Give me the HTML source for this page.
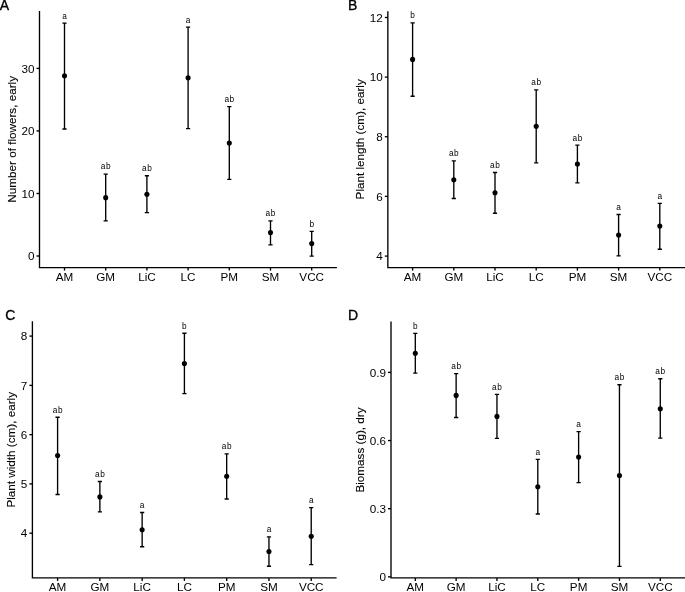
<!DOCTYPE html>
<html><head><meta charset="utf-8"><style>
html,body{margin:0;padding:0;background:#fff;}
body{width:685px;height:592px;overflow:hidden;}
svg{display:block;}
text{font-family:"Liberation Sans", sans-serif;fill:#000;}
.tg{stroke:#000;stroke-width:0.35px;}
.tt{stroke:#000;stroke-width:0.12px;}
svg{will-change:transform;}
</style></head><body>
<svg width="685" height="592" viewBox="0 0 685 592">
<rect width="685" height="592" fill="#fff"/>
<g>
<path d="M39.5 11.1V267.6H336.9" fill="none" stroke="#000" stroke-width="1.35" stroke-linecap="butt"/>
<line x1="36.5" y1="256" x2="39.5" y2="256" stroke="#000" stroke-width="1.35"/>
<text x="34.4" y="260.15" font-size="11.7" text-anchor="end">0</text>
<line x1="36.5" y1="193.5" x2="39.5" y2="193.5" stroke="#000" stroke-width="1.35"/>
<text x="34.4" y="197.65" font-size="11.7" text-anchor="end">10</text>
<line x1="36.5" y1="130.9" x2="39.5" y2="130.9" stroke="#000" stroke-width="1.35"/>
<text x="34.4" y="135.05" font-size="11.7" text-anchor="end">20</text>
<line x1="36.5" y1="68.4" x2="39.5" y2="68.4" stroke="#000" stroke-width="1.35"/>
<text x="34.4" y="72.55" font-size="11.7" text-anchor="end">30</text>
<line x1="64.5" y1="267.6" x2="64.5" y2="270.6" stroke="#000" stroke-width="1.35"/>
<text x="64.5" y="280.8" font-size="11.7" text-anchor="middle">AM</text>
<line x1="105.7" y1="267.6" x2="105.7" y2="270.6" stroke="#000" stroke-width="1.35"/>
<text x="105.7" y="280.8" font-size="11.7" text-anchor="middle">GM</text>
<line x1="146.9" y1="267.6" x2="146.9" y2="270.6" stroke="#000" stroke-width="1.35"/>
<text x="146.9" y="280.8" font-size="11.7" text-anchor="middle">LiC</text>
<line x1="188.1" y1="267.6" x2="188.1" y2="270.6" stroke="#000" stroke-width="1.35"/>
<text x="188.1" y="280.8" font-size="11.7" text-anchor="middle">LC</text>
<line x1="229.3" y1="267.6" x2="229.3" y2="270.6" stroke="#000" stroke-width="1.35"/>
<text x="229.3" y="280.8" font-size="11.7" text-anchor="middle">PM</text>
<line x1="270.5" y1="267.6" x2="270.5" y2="270.6" stroke="#000" stroke-width="1.35"/>
<text x="270.5" y="280.8" font-size="11.7" text-anchor="middle">SM</text>
<line x1="311.7" y1="267.6" x2="311.7" y2="270.6" stroke="#000" stroke-width="1.35"/>
<text x="311.7" y="280.8" font-size="11.7" text-anchor="middle">VCC</text>
<path d="M64.5 23.15V128.95M62.4 23.15H66.6M62.4 128.95H66.6" fill="none" stroke="#000" stroke-width="1.35"/>
<circle cx="64.5" cy="75.75" r="2.55" fill="#000"/>
<text x="64.5" y="18.7" font-size="8.3" text-anchor="middle">a</text>
<path d="M105.7 174.15V220.85M103.6 174.15H107.8M103.6 220.85H107.8" fill="none" stroke="#000" stroke-width="1.35"/>
<circle cx="105.7" cy="197.65" r="2.55" fill="#000"/>
<text x="106" y="168.85" font-size="8.3" text-anchor="middle" letter-spacing="0.6">ab</text>
<path d="M146.9 175.75V212.55M144.8 175.75H149M144.8 212.55H149" fill="none" stroke="#000" stroke-width="1.35"/>
<circle cx="146.9" cy="194.25" r="2.55" fill="#000"/>
<text x="147.2" y="170.5" font-size="8.3" text-anchor="middle" letter-spacing="0.6">ab</text>
<path d="M188.1 27.05V128.55M186 27.05H190.2M186 128.55H190.2" fill="none" stroke="#000" stroke-width="1.35"/>
<circle cx="188.1" cy="77.85" r="2.55" fill="#000"/>
<text x="188.1" y="22.6" font-size="8.3" text-anchor="middle">a</text>
<path d="M229.3 106.6V179.35M227.2 106.6H231.4M227.2 179.35H231.4" fill="none" stroke="#000" stroke-width="1.35"/>
<circle cx="229.3" cy="142.95" r="2.55" fill="#000"/>
<text x="229.6" y="102.15" font-size="8.3" text-anchor="middle" letter-spacing="0.6">ab</text>
<path d="M270.5 220.9V244.8M268.4 220.9H272.6M268.4 244.8H272.6" fill="none" stroke="#000" stroke-width="1.35"/>
<circle cx="270.5" cy="232.6" r="2.55" fill="#000"/>
<text x="270.8" y="215.95" font-size="8.3" text-anchor="middle" letter-spacing="0.6">ab</text>
<path d="M311.7 231.4V256.1M309.6 231.4H313.8M309.6 256.1H313.8" fill="none" stroke="#000" stroke-width="1.35"/>
<circle cx="311.7" cy="243.6" r="2.55" fill="#000"/>
<text x="311.7" y="226.95" font-size="8.3" text-anchor="middle">b</text>
<text transform="translate(15.8 139.3) rotate(-90)" font-size="11.7" text-anchor="middle" class="tt">Number of flowers, early</text>
<text x="-0.3" y="9.6" font-size="14" class="tg">A</text>
</g>
<g>
<path d="M387.85 11.2V267.6H686" fill="none" stroke="#000" stroke-width="1.35" stroke-linecap="butt"/>
<line x1="384.85" y1="256.1" x2="387.85" y2="256.1" stroke="#000" stroke-width="1.35"/>
<text x="382.75" y="260.25" font-size="11.7" text-anchor="end">4</text>
<line x1="384.85" y1="196.4" x2="387.85" y2="196.4" stroke="#000" stroke-width="1.35"/>
<text x="382.75" y="200.55" font-size="11.7" text-anchor="end">6</text>
<line x1="384.85" y1="136.75" x2="387.85" y2="136.75" stroke="#000" stroke-width="1.35"/>
<text x="382.75" y="140.9" font-size="11.7" text-anchor="end">8</text>
<line x1="384.85" y1="77.1" x2="387.85" y2="77.1" stroke="#000" stroke-width="1.35"/>
<text x="382.75" y="81.25" font-size="11.7" text-anchor="end">10</text>
<line x1="384.85" y1="17.5" x2="387.85" y2="17.5" stroke="#000" stroke-width="1.35"/>
<text x="382.75" y="21.65" font-size="11.7" text-anchor="end">12</text>
<line x1="412.6" y1="267.6" x2="412.6" y2="270.6" stroke="#000" stroke-width="1.35"/>
<text x="412.6" y="280.8" font-size="11.7" text-anchor="middle">AM</text>
<line x1="453.8" y1="267.6" x2="453.8" y2="270.6" stroke="#000" stroke-width="1.35"/>
<text x="453.8" y="280.8" font-size="11.7" text-anchor="middle">GM</text>
<line x1="495" y1="267.6" x2="495" y2="270.6" stroke="#000" stroke-width="1.35"/>
<text x="495" y="280.8" font-size="11.7" text-anchor="middle">LiC</text>
<line x1="536.2" y1="267.6" x2="536.2" y2="270.6" stroke="#000" stroke-width="1.35"/>
<text x="536.2" y="280.8" font-size="11.7" text-anchor="middle">LC</text>
<line x1="577.4" y1="267.6" x2="577.4" y2="270.6" stroke="#000" stroke-width="1.35"/>
<text x="577.4" y="280.8" font-size="11.7" text-anchor="middle">PM</text>
<line x1="618.6" y1="267.6" x2="618.6" y2="270.6" stroke="#000" stroke-width="1.35"/>
<text x="618.6" y="280.8" font-size="11.7" text-anchor="middle">SM</text>
<line x1="659.8" y1="267.6" x2="659.8" y2="270.6" stroke="#000" stroke-width="1.35"/>
<text x="659.8" y="280.8" font-size="11.7" text-anchor="middle">VCC</text>
<path d="M412.6 22.9V96.2M410.5 22.9H414.7M410.5 96.2H414.7" fill="none" stroke="#000" stroke-width="1.35"/>
<circle cx="412.6" cy="59.4" r="2.55" fill="#000"/>
<text x="412.6" y="18.1" font-size="8.3" text-anchor="middle">b</text>
<path d="M453.8 160.9V198.5M451.7 160.9H455.9M451.7 198.5H455.9" fill="none" stroke="#000" stroke-width="1.35"/>
<circle cx="453.8" cy="179.8" r="2.55" fill="#000"/>
<text x="454.1" y="156.45" font-size="8.3" text-anchor="middle" letter-spacing="0.6">ab</text>
<path d="M495 172.5V213.2M492.9 172.5H497.1M492.9 213.2H497.1" fill="none" stroke="#000" stroke-width="1.35"/>
<circle cx="495" cy="192.7" r="2.55" fill="#000"/>
<text x="495.3" y="168.05" font-size="8.3" text-anchor="middle" letter-spacing="0.6">ab</text>
<path d="M536.2 89.8V162.9M534.1 89.8H538.3M534.1 162.9H538.3" fill="none" stroke="#000" stroke-width="1.35"/>
<circle cx="536.2" cy="126.3" r="2.55" fill="#000"/>
<text x="536.5" y="85.35" font-size="8.3" text-anchor="middle" letter-spacing="0.6">ab</text>
<path d="M577.4 145.1V182.8M575.3 145.1H579.5M575.3 182.8H579.5" fill="none" stroke="#000" stroke-width="1.35"/>
<circle cx="577.4" cy="164" r="2.55" fill="#000"/>
<text x="577.7" y="140.65" font-size="8.3" text-anchor="middle" letter-spacing="0.6">ab</text>
<path d="M618.6 214.5V255.9M616.5 214.5H620.7M616.5 255.9H620.7" fill="none" stroke="#000" stroke-width="1.35"/>
<circle cx="618.6" cy="235.1" r="2.55" fill="#000"/>
<text x="618.6" y="210.05" font-size="8.3" text-anchor="middle">a</text>
<path d="M659.8 203.3V249.2M657.7 203.3H661.9M657.7 249.2H661.9" fill="none" stroke="#000" stroke-width="1.35"/>
<circle cx="659.8" cy="226.1" r="2.55" fill="#000"/>
<text x="659.8" y="198.85" font-size="8.3" text-anchor="middle">a</text>
<text transform="translate(364 139.3) rotate(-90)" font-size="11.7" text-anchor="middle" class="tt">Plant length (cm), early</text>
<text x="347.9" y="9.85" font-size="14" class="tg">B</text>
</g>
<g>
<path d="M32.4 321.3V577.9H336.6" fill="none" stroke="#000" stroke-width="1.35" stroke-linecap="butt"/>
<line x1="29.4" y1="533.2" x2="32.4" y2="533.2" stroke="#000" stroke-width="1.35"/>
<text x="27.3" y="537.35" font-size="11.7" text-anchor="end">4</text>
<line x1="29.4" y1="483.9" x2="32.4" y2="483.9" stroke="#000" stroke-width="1.35"/>
<text x="27.3" y="488.05" font-size="11.7" text-anchor="end">5</text>
<line x1="29.4" y1="434.65" x2="32.4" y2="434.65" stroke="#000" stroke-width="1.35"/>
<text x="27.3" y="438.8" font-size="11.7" text-anchor="end">6</text>
<line x1="29.4" y1="385.4" x2="32.4" y2="385.4" stroke="#000" stroke-width="1.35"/>
<text x="27.3" y="389.55" font-size="11.7" text-anchor="end">7</text>
<line x1="29.4" y1="336.1" x2="32.4" y2="336.1" stroke="#000" stroke-width="1.35"/>
<text x="27.3" y="340.25" font-size="11.7" text-anchor="end">8</text>
<line x1="57.6" y1="577.9" x2="57.6" y2="580.9" stroke="#000" stroke-width="1.35"/>
<text x="57.6" y="591.2" font-size="11.7" text-anchor="middle">AM</text>
<line x1="99.87" y1="577.9" x2="99.87" y2="580.9" stroke="#000" stroke-width="1.35"/>
<text x="99.87" y="591.2" font-size="11.7" text-anchor="middle">GM</text>
<line x1="142.14" y1="577.9" x2="142.14" y2="580.9" stroke="#000" stroke-width="1.35"/>
<text x="142.14" y="591.2" font-size="11.7" text-anchor="middle">LiC</text>
<line x1="184.41" y1="577.9" x2="184.41" y2="580.9" stroke="#000" stroke-width="1.35"/>
<text x="184.41" y="591.2" font-size="11.7" text-anchor="middle">LC</text>
<line x1="226.68" y1="577.9" x2="226.68" y2="580.9" stroke="#000" stroke-width="1.35"/>
<text x="226.68" y="591.2" font-size="11.7" text-anchor="middle">PM</text>
<line x1="268.95" y1="577.9" x2="268.95" y2="580.9" stroke="#000" stroke-width="1.35"/>
<text x="268.95" y="591.2" font-size="11.7" text-anchor="middle">SM</text>
<line x1="311.22" y1="577.9" x2="311.22" y2="580.9" stroke="#000" stroke-width="1.35"/>
<text x="311.22" y="591.2" font-size="11.7" text-anchor="middle">VCC</text>
<path d="M57.6 417.2V494.5M55.5 417.2H59.7M55.5 494.5H59.7" fill="none" stroke="#000" stroke-width="1.35"/>
<circle cx="57.6" cy="455.5" r="2.55" fill="#000"/>
<text x="57.9" y="412.75" font-size="8.3" text-anchor="middle" letter-spacing="0.6">ab</text>
<path d="M99.87 481.5V511.9M97.77 481.5H101.97M97.77 511.9H101.97" fill="none" stroke="#000" stroke-width="1.35"/>
<circle cx="99.87" cy="496.9" r="2.55" fill="#000"/>
<text x="100.17" y="477.05" font-size="8.3" text-anchor="middle" letter-spacing="0.6">ab</text>
<path d="M142.14 512.5V546.7M140.04 512.5H144.24M140.04 546.7H144.24" fill="none" stroke="#000" stroke-width="1.35"/>
<circle cx="142.14" cy="529.8" r="2.55" fill="#000"/>
<text x="142.14" y="508.05" font-size="8.3" text-anchor="middle">a</text>
<path d="M184.41 333.2V393.6M182.31 333.2H186.51M182.31 393.6H186.51" fill="none" stroke="#000" stroke-width="1.35"/>
<circle cx="184.41" cy="363.6" r="2.55" fill="#000"/>
<text x="184.41" y="328.75" font-size="8.3" text-anchor="middle">b</text>
<path d="M226.68 453.9V499M224.58 453.9H228.78M224.58 499H228.78" fill="none" stroke="#000" stroke-width="1.35"/>
<circle cx="226.68" cy="476.3" r="2.55" fill="#000"/>
<text x="226.98" y="449.45" font-size="8.3" text-anchor="middle" letter-spacing="0.6">ab</text>
<path d="M268.95 536.9V566.2M266.85 536.9H271.05M266.85 566.2H271.05" fill="none" stroke="#000" stroke-width="1.35"/>
<circle cx="268.95" cy="551.5" r="2.55" fill="#000"/>
<text x="268.95" y="532.45" font-size="8.3" text-anchor="middle">a</text>
<path d="M311.22 507.6V564.6M309.12 507.6H313.32M309.12 564.6H313.32" fill="none" stroke="#000" stroke-width="1.35"/>
<circle cx="311.22" cy="536.2" r="2.55" fill="#000"/>
<text x="311.22" y="503.15" font-size="8.3" text-anchor="middle">a</text>
<text transform="translate(15 449.8) rotate(-90)" font-size="11.7" text-anchor="middle" class="tt">Plant width (cm), early</text>
<text x="5.2" y="320.3" font-size="14" class="tg">C</text>
</g>
<g>
<path d="M391 321.4V577.9H686" fill="none" stroke="#000" stroke-width="1.35" stroke-linecap="butt"/>
<line x1="388" y1="576.85" x2="391" y2="576.85" stroke="#000" stroke-width="1.35"/>
<text x="385.9" y="581" font-size="11.7" text-anchor="end">0</text>
<line x1="388" y1="508.7" x2="391" y2="508.7" stroke="#000" stroke-width="1.35"/>
<text x="385.9" y="512.85" font-size="11.7" text-anchor="end">0.3</text>
<line x1="388" y1="440.55" x2="391" y2="440.55" stroke="#000" stroke-width="1.35"/>
<text x="385.9" y="444.7" font-size="11.7" text-anchor="end">0.6</text>
<line x1="388" y1="372.4" x2="391" y2="372.4" stroke="#000" stroke-width="1.35"/>
<text x="385.9" y="376.55" font-size="11.7" text-anchor="end">0.9</text>
<line x1="415.3" y1="577.9" x2="415.3" y2="580.9" stroke="#000" stroke-width="1.35"/>
<text x="415.3" y="591.2" font-size="11.7" text-anchor="middle">AM</text>
<line x1="456.13" y1="577.9" x2="456.13" y2="580.9" stroke="#000" stroke-width="1.35"/>
<text x="456.13" y="591.2" font-size="11.7" text-anchor="middle">GM</text>
<line x1="496.96" y1="577.9" x2="496.96" y2="580.9" stroke="#000" stroke-width="1.35"/>
<text x="496.96" y="591.2" font-size="11.7" text-anchor="middle">LiC</text>
<line x1="537.79" y1="577.9" x2="537.79" y2="580.9" stroke="#000" stroke-width="1.35"/>
<text x="537.79" y="591.2" font-size="11.7" text-anchor="middle">LC</text>
<line x1="578.62" y1="577.9" x2="578.62" y2="580.9" stroke="#000" stroke-width="1.35"/>
<text x="578.62" y="591.2" font-size="11.7" text-anchor="middle">PM</text>
<line x1="619.45" y1="577.9" x2="619.45" y2="580.9" stroke="#000" stroke-width="1.35"/>
<text x="619.45" y="591.2" font-size="11.7" text-anchor="middle">SM</text>
<line x1="660.28" y1="577.9" x2="660.28" y2="580.9" stroke="#000" stroke-width="1.35"/>
<text x="660.28" y="591.2" font-size="11.7" text-anchor="middle">VCC</text>
<path d="M415.3 333.4V373.1M413.2 333.4H417.4M413.2 373.1H417.4" fill="none" stroke="#000" stroke-width="1.35"/>
<circle cx="415.3" cy="353.2" r="2.55" fill="#000"/>
<text x="415.3" y="328.7" font-size="8.3" text-anchor="middle">b</text>
<path d="M456.13 373.6V417.5M454.03 373.6H458.23M454.03 417.5H458.23" fill="none" stroke="#000" stroke-width="1.35"/>
<circle cx="456.13" cy="395.4" r="2.55" fill="#000"/>
<text x="456.43" y="368.85" font-size="8.3" text-anchor="middle" letter-spacing="0.6">ab</text>
<path d="M496.96 394.4V438.3M494.86 394.4H499.06M494.86 438.3H499.06" fill="none" stroke="#000" stroke-width="1.35"/>
<circle cx="496.96" cy="416.4" r="2.55" fill="#000"/>
<text x="497.26" y="389.95" font-size="8.3" text-anchor="middle" letter-spacing="0.6">ab</text>
<path d="M537.79 459.3V514M535.69 459.3H539.89M535.69 514H539.89" fill="none" stroke="#000" stroke-width="1.35"/>
<circle cx="537.79" cy="486.8" r="2.55" fill="#000"/>
<text x="537.79" y="454.85" font-size="8.3" text-anchor="middle">a</text>
<path d="M578.62 431.6V482.6M576.52 431.6H580.72M576.52 482.6H580.72" fill="none" stroke="#000" stroke-width="1.35"/>
<circle cx="578.62" cy="457" r="2.55" fill="#000"/>
<text x="578.62" y="427.15" font-size="8.3" text-anchor="middle">a</text>
<path d="M619.45 384.7V566.4M617.35 384.7H621.55M617.35 566.4H621.55" fill="none" stroke="#000" stroke-width="1.35"/>
<circle cx="619.45" cy="475.6" r="2.55" fill="#000"/>
<text x="619.75" y="380.25" font-size="8.3" text-anchor="middle" letter-spacing="0.6">ab</text>
<path d="M660.28 378.7V438.1M658.18 378.7H662.38M658.18 438.1H662.38" fill="none" stroke="#000" stroke-width="1.35"/>
<circle cx="660.28" cy="408.7" r="2.55" fill="#000"/>
<text x="660.58" y="374.25" font-size="8.3" text-anchor="middle" letter-spacing="0.6">ab</text>
<text transform="translate(364 450) rotate(-90)" font-size="11.7" text-anchor="middle" class="tt">Biomass (g), dry</text>
<text x="347.95" y="320.3" font-size="14" class="tg">D</text>
</g>
</svg>
</body></html>
